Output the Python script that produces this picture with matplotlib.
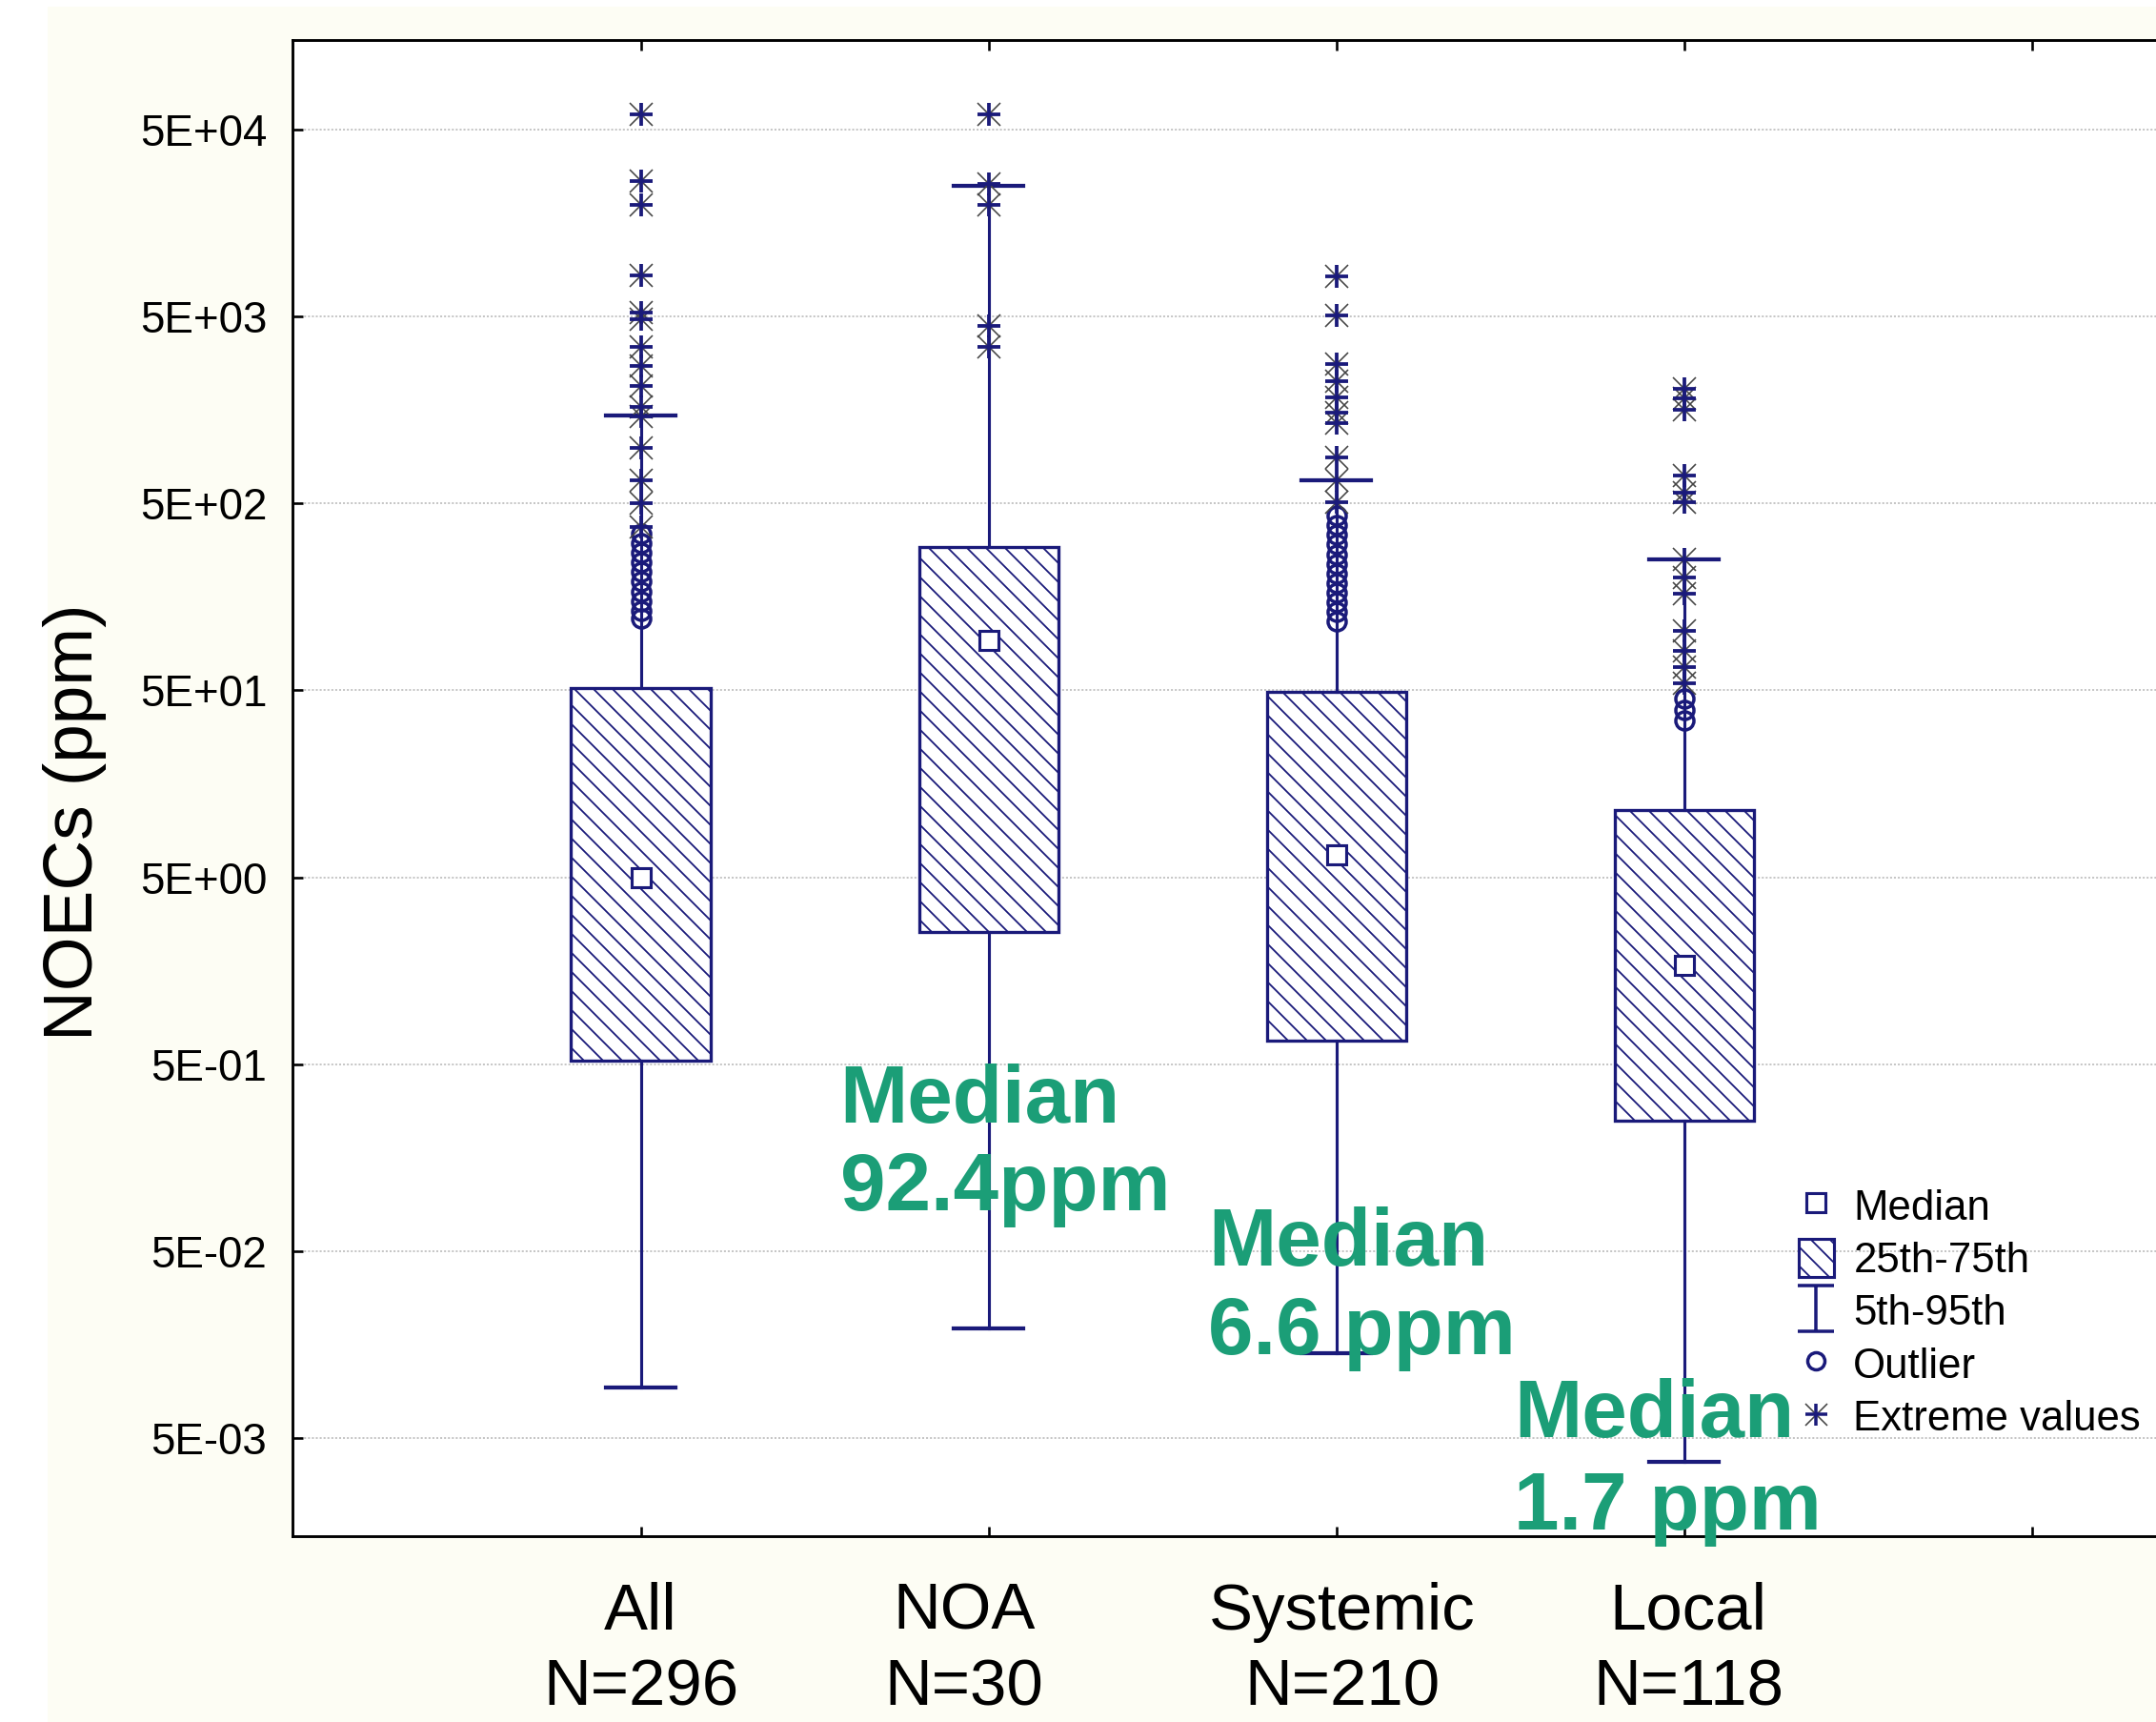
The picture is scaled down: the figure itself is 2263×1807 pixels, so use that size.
import matplotlib
matplotlib.use("Agg")
import matplotlib.pyplot as plt
from matplotlib.path import Path
from matplotlib.lines import Line2D
from matplotlib.patches import Patch, Rectangle
from matplotlib.legend_handler import HandlerTuple
from matplotlib.ticker import NullLocator
from matplotlib.transforms import blended_transform_factory

# ---------------- data ----------------
categories = ["All", "NOA", "Systemic", "Local"]
sample_sizes = ["N=296", "N=30", "N=210", "N=118"]
positions = [1, 2, 3, 4]

medians = [5.0, 92.4, 6.6, 1.7]
q1 = [0.526, 2.54, 0.667, 0.25]
q3 = [51.7, 291.0, 49.2, 11.5]
p5 = [0.00935, 0.0194, 0.0143, 0.00375]
p95 = [1480.0, 25000.0, 660.0, 250.0]

extremes_all = [60000, 26300, 19700, 8310, 5260, 4830, 3440, 2720, 2110,
                1640, 1450, 985, 667, 500, 375]
extremes_noa = [60000, 25400, 19700, 4440, 3440]
extremes_sys = [8170, 5080, 2765, 2255, 1840, 1528, 1334, 875, 667, 508]
extremes_loc = [2040, 1810, 1580, 702, 573, 508, 250, 200, 164, 104,
                81.7, 66.7, 54.4]

outliers_all = [344, 306, 272, 241, 214, 191, 169, 150, 133, 121]
outliers_noa = []
outliers_sys = [429, 381, 339, 301, 267, 237, 211, 187, 166, 148, 131, 117]
outliers_loc = [45.2, 39.4, 34.4]

extremes = [extremes_all, extremes_noa, extremes_sys, extremes_loc]
outliers = [outliers_all, outliers_noa, outliers_sys, outliers_loc]

ytick_values = [5e4, 5e3, 5e2, 5e1, 5e0, 5e-1, 5e-2, 5e-3]
ytick_labels = ["5E+04", "5E+03", "5E+02", "5E+01", "5E+00", "5E-01", "5E-02", "5E-03"]

annot_lines = [("Median", "92.4ppm"), ("Median", "6.6 ppm"), ("Median", "1.7 ppm")]

# ---------------- style ----------------
NAVY = "#1a1a7a"
GREEN = "#1b9e77"
CREAM = "#fdfdf4"
GRAY = "#454545"
W, H, DPI = 2263, 1807, 60


def P(px):
    """pixels -> points at the chosen dpi"""
    return px * 72.0 / DPI


plt.rcParams["font.family"] = ["Liberation Sans", "DejaVu Sans"]
plt.rcParams["hatch.color"] = NAVY
plt.rcParams["hatch.linewidth"] = P(1.8)

fig = plt.figure(figsize=(W / DPI, H / DPI), dpi=DPI, facecolor="white")
fig.patches.append(Rectangle((50 / W, 0), 1, 1 - 7 / H, transform=fig.transFigure,
                             facecolor=CREAM, edgecolor="none", zorder=-10))

unit = 365.1
ax = fig.add_axes([307.4 / W, 1 - 1612 / H, 6 * unit / W, (1612 - 42) / H])
ax.set_facecolor("white")
ax.set_yscale("log")
ax.set_xlim(0, 6)
ax.set_ylim(1.5e-3, 1.5e5)

# grid
ax.set_axisbelow(True)
ax.yaxis.grid(True, which="major", linestyle=(0, (1.2, 1.2)), color="#bdbdbd", linewidth=P(1.7))
ax.xaxis.grid(False)

# boxes
stats = []
for lab, m, a, b, lo, hi in zip(categories, medians, q1, q3, p5, p95):
    stats.append(dict(label=lab, med=m, q1=a, q3=b, whislo=lo, whishi=hi, fliers=[]))

ax.bxp(stats, positions=positions, widths=0.4, capwidths=0.2, patch_artist=True,
       showfliers=False,
       boxprops=dict(facecolor="white", edgecolor=NAVY, linewidth=P(3.3), hatch="\\"),
       whiskerprops=dict(color=NAVY, linewidth=P(3.1)),
       capprops=dict(color=NAVY, linewidth=P(4.2)),
       medianprops=dict(linewidth=0))

ax.plot(positions, medians, ls="none", marker="s", ms=P(20), mfc="white", mec=NAVY,
        mew=P(3.1), zorder=6)

for pos, ext, out in zip(positions, extremes, outliers):
    if out:
        ax.plot([pos] * len(out), out, ls="none", marker="o", ms=P(19), mfc="none",
                mec=NAVY, mew=P(3.5), zorder=5)
    if ext:
        ax.plot([pos] * len(ext), ext, ls="none", marker="x", ms=P(24), color=GRAY,
                mew=P(1.6), zorder=5)
        ax.plot([pos] * len(ext), ext, ls="none", marker="+", ms=P(24), color=NAVY,
                mew=P(3.8), zorder=6)

# ticks
ax.set_yticks(ytick_values)
ax.set_yticklabels(ytick_labels)
ax.yaxis.set_minor_locator(NullLocator())
ax.set_xticks([1, 2, 3, 4, 5])
ax.set_xticklabels([])
ax.tick_params(axis="y", direction="in", length=P(10.5), width=P(2.6), pad=P(27),
               labelsize=P(45.8), left=True, right=False, colors="black")
ax.tick_params(axis="x", direction="in", length=P(10.5), width=P(2.6), top=True,
               bottom=True, labelbottom=False)
for s in ["left", "top", "bottom"]:
    ax.spines[s].set_linewidth(P(2.9))
    ax.spines[s].set_color("black")
ax.spines["right"].set_visible(False)

# y label
fig.text(79 / W, 1 - 863 / H, "NOECs (ppm)", rotation=90, ha="center", va="center",
         fontsize=P(73))

# category labels (two lines)
tr = blended_transform_factory(ax.transData, fig.transFigure)
label_x = [1.0, 1.929, 3.016, 4.012]
for x, c, n in zip(label_x, categories, sample_sizes):
    ax.text(x, 1 - 1710 / H, c, transform=tr, ha="center", va="baseline", fontsize=P(69),
            clip_on=False)
    ax.text(x, 1 - 1789 / H, n, transform=tr, ha="center", va="baseline", fontsize=P(69),
            clip_on=False)

# green median annotations
annot_x = [1.573, 2.632, 3.510]
annot_y1 = [0.2455, 0.0422, 0.00508]
annot_y2 = [0.0832, 0.01403, 0.001637]
for x, ya, yb, (t1, t2) in zip(annot_x, annot_y1, annot_y2, annot_lines):
    ax.text(x, ya, t1, ha="left", va="baseline", fontsize=P(85.4), fontweight="bold",
            color=GREEN, zorder=8, clip_on=False)
    ax.text(x, yb, t2, ha="left", va="baseline", fontsize=P(85.4), fontweight="bold",
            color=GREEN, zorder=8, clip_on=False)

# legend
whisk_path = Path([(-0.4, 0.5), (0.4, 0.5), (0, 0.5), (0, -0.5), (-0.4, -0.5), (0.4, -0.5)],
                  [Path.MOVETO, Path.LINETO, Path.MOVETO, Path.LINETO, Path.MOVETO, Path.LINETO])
h_med = Line2D([], [], ls="none", marker="s", ms=P(20), mfc="white", mec=NAVY, mew=P(3.1))
h_box = Patch(facecolor="white", edgecolor=NAVY, hatch="\\", linewidth=P(3.1))
h_whisk = Line2D([], [], ls="none", marker=whisk_path, ms=P(48), mfc="none", mec=NAVY,
                 mew=P(3.5))
h_out = Line2D([], [], ls="none", marker="o", ms=P(18), mfc="none", mec=NAVY, mew=P(3.5))
h_ext1 = Line2D([], [], ls="none", marker="x", ms=P(23), color=GRAY, mew=P(1.6))
h_ext2 = Line2D([], [], ls="none", marker="+", ms=P(23), color=NAVY, mew=P(3.5))
leg_labels = ["Median", "25th-75th", "5th-95th", "Outlier", "Extreme values"]
fig.legend([h_med, h_box, h_whisk, h_out, (h_ext1, h_ext2)], leg_labels,
           handler_map={tuple: HandlerTuple(ndivide=1)},
           loc="upper left", bbox_to_anchor=(1887.5 / W, 1 - 1245 / H),
           bbox_transform=fig.transFigure, frameon=False, fontsize=P(43.75),
           handlelength=0.85, handleheight=1.0, handletextpad=0.47,
           labelspacing=0.27, borderpad=0, borderaxespad=0)

fig.savefig("out.png", dpi=DPI, facecolor=fig.get_facecolor())
